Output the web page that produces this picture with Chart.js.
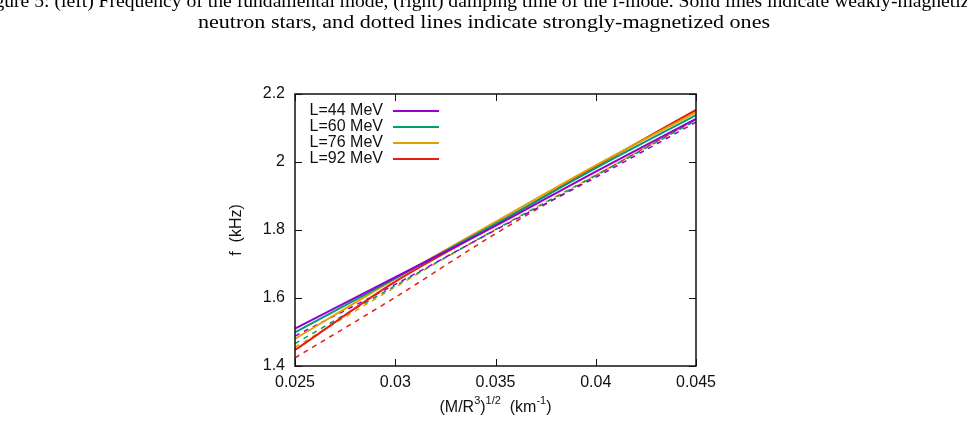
<!DOCTYPE html>
<html>
<head>
<meta charset="utf-8">
<script src="https://cdn.jsdelivr.net/npm/chart.js@4"></script>
<style>
  html, body { margin: 0; padding: 0; background: #fff; }
  canvas { display: block; }
</style>
</head>
<body>
<canvas id="fChart" width="967" height="424"></canvas>
<script>
// Werte
const xVals = [0.025, 0.03, 0.035, 0.04, 0.045];
const labels = ['L=44 MeV', 'L=60 MeV', 'L=76 MeV', 'L=92 MeV'];
const colors = ['#9400d3', '#009e73', '#e69f00', '#e51e10'];

// schwach magnetisiert (durchgezogen)
const weak44 = [1.510, 1.661, 1.812, 1.972, 2.127];
const weak60 = [1.499, 1.658, 1.818, 1.982, 2.138];
const weak76 = [1.480, 1.656, 1.824, 1.990, 2.146];
const weak92 = [1.447, 1.648, 1.815, 1.987, 2.153];

// stark magnetisiert (gepunktet)
const strong44 = [1.488, 1.640, 1.800, 1.955, 2.117];
const strong60 = [1.466, 1.636, 1.801, 1.960, 2.122];
const strong76 = [1.455, 1.632, 1.802, 1.962, 2.125];
const strong92 = [1.424, 1.602, 1.789, 1.960, 2.125];

const xTicks = [0.025, 0.03, 0.035, 0.04, 0.045];
const yTicks = [1.4, 1.6, 1.8, 2, 2.2];

const weak = [weak44, weak60, weak76, weak92];
const strong = [strong44, strong60, strong76, strong92];

const toPts = arr => arr.map((y, i) => ({ x: xVals[i], y: y }));

const datasets = [];
weak.forEach((arr, i) => {
  datasets.push({
    label: labels[i], data: toPts(arr), borderColor: colors[i],
    borderWidth: 2, pointRadius: 0, showLine: true, fill: false,
    cubicInterpolationMode: 'monotone', isWeak: true
  });
});
strong.forEach((arr, i) => {
  datasets.push({
    label: labels[i] + ' (strong)', data: toPts(arr), borderColor: colors[i],
    borderWidth: 1.5, borderDash: [5, 5], pointRadius: 0, showLine: true, fill: false,
    cubicInterpolationMode: 'monotone', isWeak: false
  });
});

const FONT = '"Liberation Sans", Arial, sans-serif';

// Text auf eine Zielbreite strecken (Ersatz fuer Computer Modern)
function stretchedText(ctx, txt, cx, y, targetW) {
  const w = ctx.measureText(txt).width;
  const k = targetW / w;
  ctx.save();
  ctx.translate(cx, y);
  ctx.scale(k, 1);
  ctx.textAlign = 'center';
  ctx.fillText(txt, 0, 0);
  ctx.restore();
}

// Rahmen, Ticks nach innen, Legende, Achsentitel, Bildunterschrift
const gnuplotLook = {
  id: 'gnuplotLook',
  afterDatasetsDraw(chart) {
    const ctx = chart.ctx;
    const a = chart.chartArea;
    const xs = chart.scales.x, ys = chart.scales.y;
    ctx.save();
    ctx.strokeStyle = '#111';
    ctx.lineWidth = 1;
    const tl = 7;
    xTicks.forEach(v => {
      const px = Math.round(xs.getPixelForValue(v)) + 0.5;
      ctx.beginPath();
      ctx.moveTo(px, a.bottom); ctx.lineTo(px, a.bottom - tl);
      ctx.moveTo(px, a.top); ctx.lineTo(px, a.top + tl);
      ctx.stroke();
    });
    yTicks.forEach(v => {
      const py = Math.round(ys.getPixelForValue(v)) + 0.5;
      ctx.beginPath();
      ctx.moveTo(a.left, py); ctx.lineTo(a.left + tl, py);
      ctx.moveTo(a.right, py); ctx.lineTo(a.right - tl, py);
      ctx.stroke();
    });
    ctx.lineWidth = 1.5;
    ctx.strokeRect(a.left, a.top, a.right - a.left, a.bottom - a.top);

    // Legende
    ctx.font = '16px ' + FONT;
    ctx.fillStyle = '#111';
    ctx.textAlign = 'right';
    ctx.textBaseline = 'middle';
    chart.data.datasets.filter(d => d.isWeak).forEach((d, i) => {
      const y = a.top + 17 + i * 16;
      ctx.fillText(d.label, a.left + 88, y);
      ctx.strokeStyle = d.borderColor;
      ctx.lineWidth = 2;
      ctx.beginPath();
      ctx.moveTo(a.left + 98, y); ctx.lineTo(a.left + 144, y);
      ctx.stroke();
    });

    // y-Titel
    ctx.save();
    ctx.translate(237, (a.top + a.bottom) / 2);
    ctx.rotate(-Math.PI / 2);
    ctx.textAlign = 'center';
    ctx.textBaseline = 'middle';
    ctx.fillStyle = '#111';
    ctx.fillText('f  (kHz)', 0, 0);
    ctx.restore();

    // x-Titel mit Hochstellungen
    const parts = [
      ['(M/R', false], ['3', true], [')', false], ['1/2', true],
      ['  (km', false], ['-1', true], [')', false]
    ];
    const big = '16px ' + FONT, small = '11px ' + FONT;
    let w = 0;
    parts.forEach(p => { ctx.font = p[1] ? small : big; w += ctx.measureText(p[0]).width; });
    let x = (a.left + a.right) / 2 - w / 2;
    const base = 412;
    ctx.textAlign = 'left';
    ctx.textBaseline = 'alphabetic';
    parts.forEach(p => {
      ctx.font = p[1] ? small : big;
      ctx.fillText(p[0], x, p[1] ? base - 8 : base);
      x += ctx.measureText(p[0]).width;
    });

    // Bildunterschrift (oben angeschnitten)
    ctx.font = '19px "Liberation Serif", "Times New Roman", serif';
    ctx.fillStyle = '#000';
    stretchedText(ctx, 'Figure 5: (left) Frequency of the fundamental mode, (right) damping time of the f-mode. Solid lines indicate weakly-magnetized', 483, 7, 1010);
    stretchedText(ctx, 'neutron stars, and dotted lines indicate strongly-magnetized ones', 484, 28, 572);
    ctx.restore();
  }
};

const fmt = v => String(parseFloat(Number(v).toFixed(3)));

new Chart(document.getElementById('fChart'), {
  type: 'scatter',
  data: { datasets: datasets },
  options: {
    responsive: false,
    animation: false,
    layout: { padding: { left: 0, top: 94, right: 271, bottom: 0 } },
    plugins: { legend: { display: false }, tooltip: { enabled: false } },
    scales: {
      x: {
        type: 'linear', min: 0.025, max: 0.045,
        afterBuildTicks: s => { s.ticks = xTicks.map(v => ({ value: v })); },
        afterFit: s => { s.height = 58; },
        grid: { display: false, drawTicks: false }, border: { display: false },
        ticks: { callback: fmt, padding: 7, color: '#111', font: { size: 16, family: FONT }, maxRotation: 0 }
      },
      y: {
        type: 'linear', min: 1.4, max: 2.2,
        afterBuildTicks: s => { s.ticks = yTicks.map(v => ({ value: v })); },
        afterFit: s => { s.width = 295; },
        grid: { display: false, drawTicks: false }, border: { display: false },
        ticks: { callback: fmt, padding: 10, color: '#111', font: { size: 16, family: FONT } }
      }
    }
  },
  plugins: [gnuplotLook]
});
</script>
</body>
</html>
